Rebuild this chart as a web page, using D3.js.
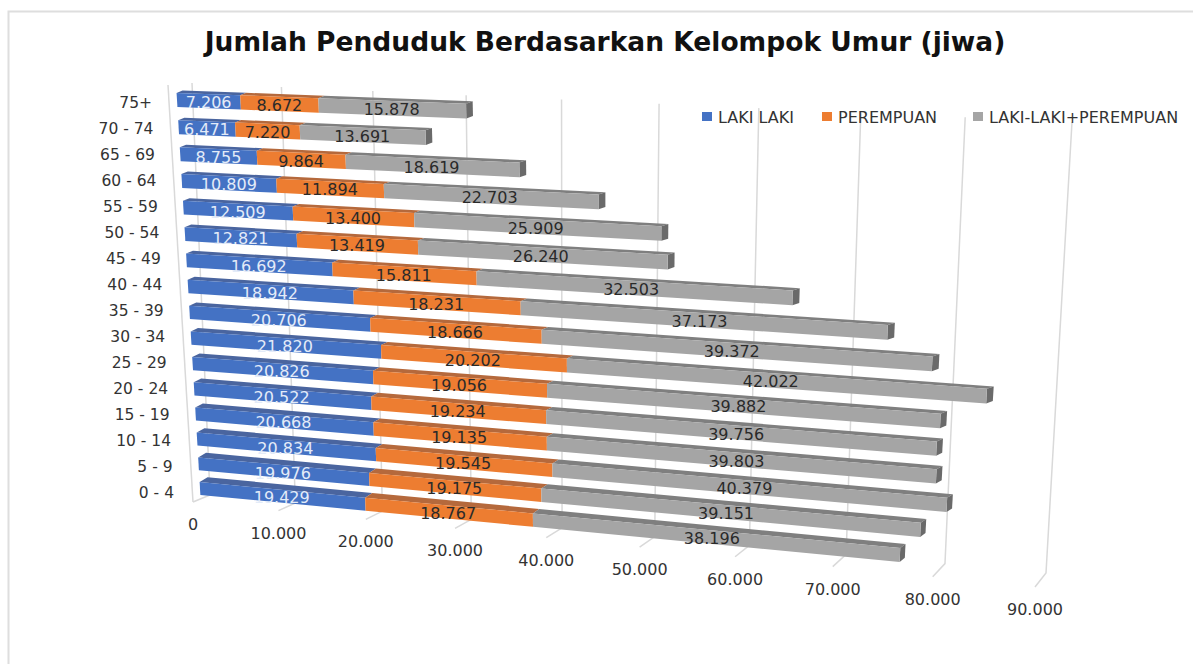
<!DOCTYPE html>
<html>
<head>
<meta charset="utf-8">
<script src="https://cdnjs.cloudflare.com/ajax/libs/d3/7.8.5/d3.min.js"></script>
<style>
  html, body { margin: 0; padding: 0; background: #fff; }
  svg { display: block; }
  text { font-family: "DejaVu Sans", sans-serif; }
</style>
</head>
<body>
<div id="chart"></div>
<script>
const categories = ['0 - 4', '5 - 9', '10 - 14', '15 - 19', '20 - 24', '25 - 29', '30 - 34', '35 - 39',
  '40 - 44', '45 - 49', '50 - 54', '55 - 59', '60 - 64', '65 - 69', '70 - 74', '75+'];
const lakiLaki = [19429, 19976, 20834, 20668, 20522, 20826, 21820, 20706,
  18942, 16692, 12821, 12509, 10809, 8755, 6471, 7206];
const perempuan = [18767, 19175, 19545, 19135, 19234, 19056, 20202, 18666,
  18231, 15811, 13419, 13400, 11894, 9864, 7220, 8672];
const jumlah = [38196, 39151, 40379, 39803, 39756, 39882, 42022, 39372,
  37173, 32503, 26240, 25909, 22703, 18619, 13691, 15878];
const seriesNames = ['LAKI LAKI', 'PEREMPUAN', 'LAKI-LAKI+PEREMPUAN'];
const tickValues = [0, 10000, 20000, 30000, 40000, 50000, 60000, 70000, 80000, 90000];

const width = 1193;
const height = 664;

// chart faces, fitted by eye on the picture, corners: (0,0) (1,0) (1,1) (0,1)
const wallFace = quad([210, 495], [1046, 573], [1072, 122], [192, 83]);
const edgeFace = quad([193, 502], [1035, 587], [1058, 128], [168, 85]);
const barFront = quad([200, 488.5], [1040, 568.3], [1066, 134], [177, 100]);
const barBack = quad([208, 483.5], [1045, 564.3], [1076, 132], [183, 97.5]);

// maps the unit square on a four sided shape
function quad(p0, p1, p2, p3) {
  const dx1 = p1[0] - p2[0], dx2 = p3[0] - p2[0], sx = p0[0] - p1[0] + p2[0] - p3[0];
  const dy1 = p1[1] - p2[1], dy2 = p3[1] - p2[1], sy = p0[1] - p1[1] + p2[1] - p3[1];
  const den = dx1 * dy2 - dx2 * dy1;
  const g = (sx * dy2 - dx2 * sy) / den;
  const h = (dx1 * sy - sx * dy1) / den;
  const a = p1[0] - p0[0] + g * p1[0], b = p3[0] - p0[0] + h * p3[0];
  const d = p1[1] - p0[1] + g * p1[1], e = p3[1] - p0[1] + h * p3[1];
  return (u, t) => {
    const w = g * u + h * t + 1;
    return [(a * u + b * t + p0[0]) / w, (d * u + e * t + p0[1]) / w];
  };
}

const x = d3.scaleLinear().domain([0, 90000]).range([0, 1]);
const y = d3.scaleLinear().domain([0, categories.length - 1]).range([0, 1]);
const barHalf = 0.26 / (categories.length - 1);
const labelEnd = d3.scaleLinear().domain([0, categories.length - 1]).range([174, 152]);

const fmt = d3.formatLocale({ decimal: ',', thousands: '.', grouping: [3], currency: ['', ''] }).format(',d');
const line = d3.line();

const table = categories.map((c, i) => ({
  cat: i,
  [seriesNames[0]]: lakiLaki[i],
  [seriesNames[1]]: perempuan[i],
  [seriesNames[2]]: jumlah[i]
}));
const stacked = d3.stack().keys(seriesNames)(table);

const colors = {
  [seriesNames[0]]: { front: '#4472c4', top: '#4a659f', end: '#35588f', label: '#e3ebf8' },
  [seriesNames[1]]: { front: '#ed7d31', top: '#b5693c', end: '#a65a28', label: '#2a2a2a' },
  [seriesNames[2]]: { front: '#a5a5a5', top: '#7f7f7f', end: '#6a6a6a', label: '#2a2a2a' }
};

const svg = d3.select('#chart').append('svg')
  .attr('width', width)
  .attr('height', height);

// outer border, runs off the right and bottom of the picture
svg.append('path')
  .attr('d', `M8.5,${height}V11.5H${width}`)
  .attr('fill', 'none')
  .attr('stroke', '#dedede')
  .attr('stroke-width', 2);

svg.append('text')
  .attr('x', 605)
  .attr('y', 51)
  .attr('text-anchor', 'middle')
  .attr('font-size', 26.5)
  .attr('font-weight', 'bold')
  .attr('fill', '#111')
  .text('Jumlah Penduduk Berdasarkan Kelompok Umur (jiwa)');

const grid = svg.append('g')
  .attr('fill', 'none')
  .attr('stroke', '#d9d9d9')
  .attr('stroke-width', 1.5);

tickValues.forEach(v => {
  grid.append('path').attr('d', line([wallFace(x(v), 1), wallFace(x(v), 0), edgeFace(x(v), 0)]));
});
grid.append('path').attr('d', line([edgeFace(0, 1), edgeFace(0, 0)]));

svg.append('g').selectAll('text')
  .data(tickValues)
  .join('text')
  .attr('x', d => edgeFace(x(d), 0)[0])
  .attr('y', d => edgeFace(x(d), 0)[1] + 28)
  .attr('text-anchor', 'middle')
  .attr('font-size', 16)
  .attr('fill', '#333')
  .text(d => fmt(d));

svg.append('g').selectAll('text')
  .data(categories)
  .join('text')
  .attr('x', (d, i) => labelEnd(i))
  .attr('y', (d, i) => y(i) * (103 - 493) + 493 + 5)
  .attr('text-anchor', 'end')
  .attr('font-size', 15.5)
  .attr('fill', '#333')
  .text(d => d);

const bars = svg.append('g');
stacked.forEach((layer, s) => {
  const col = colors[layer.key];
  const g = bars.append('g');
  layer.forEach(d => {
    const i = d.data.cat;
    // the third series is stacked on the first two, its length is the total
    const u0 = x(d[0]), u1 = x(d[1]);
    const tTop = y(i) + barHalf, tBot = y(i) - barHalf;
    g.append('path')
      .attr('fill', col.top)
      .attr('d', line([barFront(u0, tTop), barFront(u1, tTop), barBack(u1, tTop), barBack(u0, tTop)]) + 'Z');
    if (s === stacked.length - 1) {
      g.append('path')
        .attr('fill', col.end)
        .attr('d', line([barFront(u1, tTop), barBack(u1, tTop), barBack(u1, tBot), barFront(u1, tBot)]) + 'Z');
    }
    g.append('path')
      .attr('fill', col.front)
      .attr('d', line([barFront(u0, tTop), barFront(u1, tTop), barFront(u1, tBot), barFront(u0, tBot)]) + 'Z');
  });
});

const labels = svg.append('g');
stacked.forEach(layer => {
  labels.selectAll(null)
    .data(layer)
    .join('text')
    .attr('x', d => barFront(x((d[0] + d[1]) / 2), y(d.data.cat))[0])
    .attr('y', d => barFront(x((d[0] + d[1]) / 2), y(d.data.cat))[1] + 7)
    .attr('text-anchor', 'middle')
    .attr('font-size', 16)
    .attr('fill', colors[layer.key].label)
    .text(d => fmt(d[1] - d[0]));
});

const legendX = [702, 822, 973];
const legend = svg.append('g');
seriesNames.forEach((name, i) => {
  legend.append('rect')
    .attr('x', legendX[i])
    .attr('y', 112)
    .attr('width', 10)
    .attr('height', 9)
    .attr('fill', colors[name].front);
  legend.append('text')
    .attr('x', legendX[i] + 16)
    .attr('y', 123)
    .attr('font-size', 16)
    .attr('fill', '#333')
    .text(name);
});
</script>
</body>
</html>
